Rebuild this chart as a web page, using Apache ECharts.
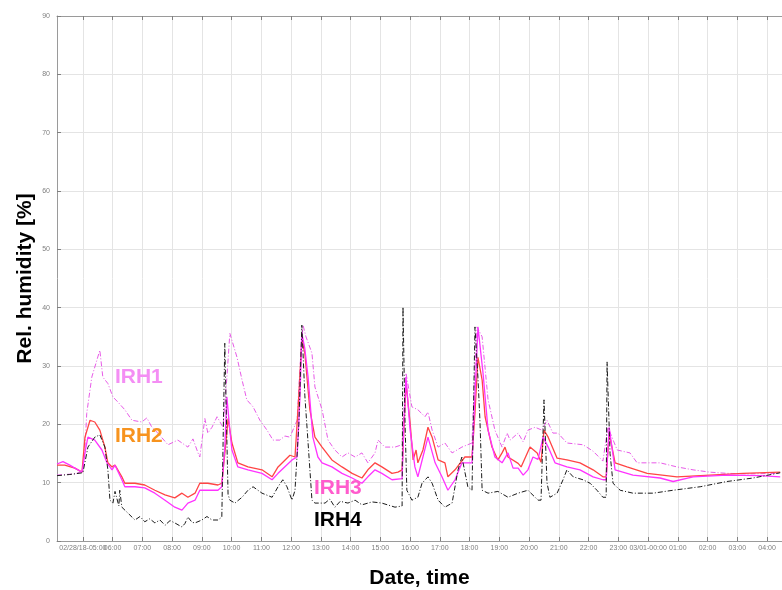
<!DOCTYPE html>
<html>
<head>
<meta charset="utf-8">
<script src="https://cdn.jsdelivr.net/npm/echarts@6/dist/echarts.min.js"></script>
<style>
  html, body { margin: 0; padding: 0; background: #fff; }
  #chart { width: 782px; height: 590px; }
</style>
</head>
<body>
<div id="chart"></div>
<script>
// Time = hours since 02/28 00:00 ; value = relative humidity [%]
const irh1 = [[4.13,11.3],[4.39,11.4],[4.73,11.5],[5.00,12.0],[5.07,16.0],[5.13,21.9],[5.30,28.1],[5.47,31.0],[5.57,32.7],[5.61,32.9],[5.67,28.1],[5.84,27.0],[6.01,24.7],[6.18,23.8],[6.41,22.5],[6.65,20.7],[6.98,20.4],[7.15,21.1],[7.32,19.5],[7.52,18.5],[7.86,16.5],[8.19,17.3],[8.53,16.1],[8.70,17.5],[8.87,15.1],[8.93,14.4],[9.10,21.0],[9.20,18.5],[9.34,19.5],[9.51,21.3],[9.71,19.5],[9.84,28.0],[9.94,35.6],[10.18,31.5],[10.35,27.6],[10.51,24.2],[10.72,23.0],[10.95,20.7],[11.19,19.0],[11.39,17.3],[11.62,17.3],[11.79,18.0],[11.96,17.8],[12.20,20.7],[12.30,30.0],[12.40,37.0],[12.50,35.0],[12.70,32.2],[12.80,26.4],[13.04,22.5],[13.24,17.3],[13.47,15.6],[13.71,14.4],[13.91,15.1],[14.15,14.4],[14.38,15.1],[14.58,13.4],[14.82,15.1],[14.92,17.3],[15.15,16.1],[15.49,16.1],[15.73,16.5],[15.79,22.0],[15.86,28.8],[16.06,23.0],[16.26,22.5],[16.50,21.3],[16.60,22.1],[16.74,19.0],[16.94,16.1],[17.17,16.8],[17.41,15.1],[17.74,16.1],[18.08,16.8],[18.18,30.0],[18.25,36.7],[18.42,35.0],[18.62,24.2],[18.85,19.0],[19.09,16.1],[19.26,18.5],[19.36,17.3],[19.63,18.5],[19.80,17.0],[19.96,19.0],[20.20,19.5],[20.43,19.0],[20.60,20.7],[20.80,18.5],[20.97,18.5],[21.27,16.8],[21.81,16.5],[22.15,15.4],[22.48,13.7],[22.65,19.5],[22.96,15.6],[23.39,15.1],[23.63,13.4],[24.40,13.4],[24.97,12.7],[25.51,12.2],[26.08,11.8],[26.65,11.6],[27.33,11.5],[28.44,11.6]];

const irh2 = [[4.13,13.0],[4.39,13.0],[4.73,12.5],[4.97,11.8],[5.07,17.8],[5.24,20.7],[5.40,20.4],[5.57,19.0],[5.74,16.1],[5.84,13.4],[5.98,12.7],[6.08,13.0],[6.31,11.0],[6.41,9.9],[6.75,9.9],[7.08,9.6],[7.42,8.7],[7.76,7.9],[8.09,7.4],[8.33,8.2],[8.53,7.5],[8.77,8.2],[8.93,9.9],[9.20,9.9],[9.54,9.6],[9.67,9.9],[9.81,17.0],[9.88,21.0],[10.01,16.8],[10.21,13.4],[10.55,12.7],[11.02,12.2],[11.36,11.0],[11.56,12.7],[11.96,14.7],[12.13,14.4],[12.26,25.0],[12.36,34.5],[12.46,32.2],[12.63,22.5],[12.80,17.8],[13.04,16.1],[13.37,13.9],[13.71,12.7],[14.05,11.6],[14.38,10.8],[14.58,12.2],[14.82,13.4],[15.05,12.7],[15.39,11.6],[15.59,11.8],[15.73,12.2],[15.86,27.1],[16.00,20.2],[16.10,13.9],[16.20,15.6],[16.26,13.4],[16.43,15.6],[16.60,19.5],[16.74,17.8],[16.94,13.9],[17.17,13.4],[17.27,11.0],[17.51,12.2],[17.84,14.4],[18.08,14.4],[18.18,22.0],[18.28,31.5],[18.42,27.6],[18.52,21.3],[18.75,16.1],[18.95,13.9],[19.09,15.1],[19.19,16.1],[19.29,14.4],[19.63,13.3],[19.73,12.7],[20.03,16.1],[20.27,15.1],[20.40,13.5],[20.50,19.0],[20.64,17.8],[20.94,14.2],[21.27,13.9],[21.71,13.4],[22.15,12.2],[22.48,11.0],[22.59,11.0],[22.69,18.5],[22.89,13.4],[23.29,12.7],[23.97,11.6],[24.97,11.0],[26.08,11.3],[27.19,11.6],[28.44,11.8]];

const irh3 = [[4.13,13.2],[4.33,13.6],[4.56,13.0],[4.73,12.5],[4.97,11.8],[5.10,16.0],[5.17,17.8],[5.40,17.3],[5.64,15.6],[5.81,13.4],[5.98,12.2],[6.08,13.0],[6.31,10.5],[6.41,9.3],[6.75,9.3],[7.08,9.1],[7.42,8.2],[7.76,7.0],[8.09,5.8],[8.33,5.3],[8.53,6.5],[8.77,7.0],[8.93,8.7],[9.20,8.7],[9.54,8.7],[9.67,9.3],[9.77,16.0],[9.84,24.7],[9.94,19.0],[10.01,15.6],[10.21,12.7],[10.55,12.2],[11.02,11.6],[11.36,10.5],[11.56,11.6],[12.03,13.9],[12.20,14.4],[12.30,25.0],[12.36,35.6],[12.46,33.0],[12.57,28.1],[12.73,17.8],[12.90,14.4],[13.04,13.4],[13.37,12.7],[13.71,11.6],[14.05,10.8],[14.38,9.9],[14.58,11.0],[14.82,12.2],[15.05,11.6],[15.39,10.5],[15.73,10.7],[15.79,20.0],[15.86,28.1],[16.00,19.0],[16.16,12.7],[16.26,11.0],[16.43,14.4],[16.60,17.8],[16.84,13.4],[17.07,11.0],[17.27,8.7],[17.51,10.5],[17.74,13.4],[18.08,13.4],[18.18,25.0],[18.28,36.7],[18.45,28.8],[18.62,19.0],[18.85,14.4],[19.09,13.4],[19.29,15.1],[19.46,12.5],[19.63,12.5],[19.80,11.3],[19.96,12.2],[20.13,14.4],[20.30,14.0],[20.47,17.8],[20.64,16.1],[20.87,13.4],[21.27,12.7],[21.71,12.2],[22.15,11.0],[22.48,10.5],[22.59,10.5],[22.69,19.5],[22.89,12.2],[23.49,11.3],[24.40,10.8],[24.84,10.2],[25.51,11.0],[26.65,11.3],[27.76,11.2],[28.44,11.0]];

const irh4 = [[4.13,11.2],[4.56,11.4],[5.00,11.7],[5.17,16.1],[5.40,17.8],[5.57,18.2],[5.74,16.1],[5.84,12.2],[5.91,7.0],[6.01,6.5],[6.08,8.5],[6.14,8.7],[6.21,6.0],[6.24,8.7],[6.31,5.8],[6.51,4.8],[6.75,3.6],[6.92,4.2],[7.08,3.3],[7.25,3.8],[7.42,3.1],[7.59,3.6],[7.76,2.7],[7.93,3.5],[8.09,3.1],[8.33,2.4],[8.43,3.0],[8.53,4.1],[8.67,3.2],[8.77,3.1],[9.00,3.6],[9.17,4.2],[9.34,3.6],[9.54,3.6],[9.67,4.1],[9.77,33.9],[9.88,8.0],[9.94,7.0],[10.11,6.5],[10.35,7.5],[10.55,8.7],[10.72,9.3],[11.02,8.2],[11.36,7.5],[11.56,9.3],[11.72,10.5],[11.86,9.3],[12.03,7.0],[12.13,8.7],[12.26,20.0],[12.36,37.0],[12.46,25.0],[12.57,16.8],[12.70,7.0],[12.80,6.5],[13.14,6.5],[13.30,7.2],[13.47,5.8],[13.65,6.8],[13.91,6.5],[14.15,7.0],[14.38,6.2],[14.72,6.7],[15.05,6.5],[15.49,5.8],[15.73,6.0],[15.76,40.1],[15.83,20.0],[15.89,8.7],[16.06,7.0],[16.26,7.5],[16.40,9.9],[16.60,11.0],[16.74,9.9],[16.94,7.0],[17.17,5.8],[17.41,6.5],[17.61,12.2],[17.74,14.4],[17.94,9.3],[18.08,8.7],[18.18,36.7],[18.28,28.0],[18.35,20.2],[18.42,8.7],[18.62,8.2],[18.95,8.5],[19.29,7.5],[19.63,8.2],[19.96,8.7],[20.30,7.0],[20.40,7.0],[20.50,24.2],[20.60,10.0],[20.70,7.5],[20.94,8.2],[21.14,10.5],[21.27,12.2],[21.48,11.0],[21.81,10.5],[22.05,9.9],[22.28,8.7],[22.48,7.5],[22.59,7.5],[22.62,30.7],[22.72,15.0],[22.82,9.9],[23.06,8.7],[23.49,8.2],[24.17,8.2],[24.84,8.7],[25.75,9.3],[26.65,10.2],[27.53,10.8],[28.44,11.7]];

const hourTicks = [5,6,7,8,9,10,11,12,13,14,15,16,17,18,19,20,21,22,23,24,25,26,27,28];
const hourLabels = ['02/28/18-05:00','06:00','07:00','08:00','09:00','10:00','11:00','12:00','13:00','14:00','15:00','16:00','17:00','18:00','19:00','20:00','21:00','22:00','23:00','03/01-00:00','01:00','02:00','03:00','04:00'];
const yTicks = [0,10,20,30,40,50,60,70,80,90];

const seriesNames = ['IRH1','IRH2','IRH3','IRH4'];
const seriesColors = ['#e85ae8','#ff4545','#ff33ff','#1a1a1a'];
const labelColors = ['#f48ef4','#f7931e','#ff5ccd','#000000'];
const labelAnchors = [[6.88,28.1],[6.88,18.0],[13.57,9.1],[13.57,3.6]];

const FONT = 'Liberation Sans, Arial, Helvetica, sans-serif';
const chart = echarts.init(document.getElementById('chart'), null, {renderer: 'canvas'});

function hourLabel(v) {
  const k = hourTicks.indexOf(Math.round(v));
  return k >= 0 ? hourLabels[k] : '';
}

function mk(i, data, dashed, width) {
  return {
    name: seriesNames[i],
    type: 'line',
    data: data,
    showSymbol: false,
    symbol: 'none',
    smooth: false,
    lineStyle: { color: seriesColors[i], width: width, type: dashed ? [5,2,1,2] : 'solid' },
    z: 2 + i,
    markPoint: {
      symbol: 'circle', symbolSize: 1,
      itemStyle: { color: 'rgba(0,0,0,0)' },
      label: { show: true, position: 'inside', formatter: seriesNames[i],
               color: labelColors[i], fontSize: 21, fontWeight: 'bold', fontFamily: FONT },
      data: [{ coord: labelAnchors[i] }]
    }
  };
}

const tickStyle = { show: true, inside: true, length: 4, lineStyle: { color: '#808080' } };
const lineStyleAxis = { show: true, onZero: false, lineStyle: { color: '#9a9a9a', width: 1 } };
const labelBase = { fontSize: 7, color: '#808080', fontFamily: FONT, margin: 4, hideOverlap: false, formatter: hourLabel };

chart.setOption({
  animation: false,
  backgroundColor: '#ffffff',
  grid: { left: 57, top: 16, right: 0, bottom: 49, containLabel: false, outerBoundsMode: 'none' },
  xAxis: [{
    type: 'value', position: 'bottom', min: 4.13, max: 28.5,
    axisLine: lineStyleAxis,
    axisTick: Object.assign({ customValues: hourTicks }, tickStyle),
    axisLabel: Object.assign({ customValues: hourTicks.slice(1) }, labelBase),
    splitLine: { show: true, lineStyle: { color: '#e4e4e4', width: 1 } },
    name: 'Date, time', nameLocation: 'middle', nameGap: 27, nameMoveOverlap: false,
    nameTextStyle: { fontSize: 21, fontWeight: 'bold', color: '#000', fontFamily: FONT }
  }, {
    type: 'value', position: 'top', min: 4.13, max: 28.5,
    axisLine: lineStyleAxis,
    axisTick: Object.assign({ customValues: hourTicks }, tickStyle),
    axisLabel: { show: false },
    splitLine: { show: false }
  }, {
    type: 'value', position: 'bottom', offset: 0, min: 4.13, max: 28.5,
    axisLine: { show: false },
    axisTick: { show: false, customValues: hourTicks.slice(0, 1) },
    axisLabel: Object.assign({ customValues: hourTicks.slice(0, 1) }, labelBase),
    splitLine: { show: false }
  }],
  yAxis: {
    type: 'value', min: 0, max: 90, interval: 10,
    axisLine: lineStyleAxis,
    axisTick: tickStyle,
    axisLabel: { fontSize: 7, color: '#808080', fontFamily: FONT, margin: 7 },
    splitLine: { show: true, lineStyle: { color: '#e4e4e4', width: 1 } },
    name: 'Rel. humidity [%]', nameLocation: 'middle', nameGap: 21, nameMoveOverlap: false,
    nameTextStyle: { fontSize: 21, fontWeight: 'bold', color: '#000', fontFamily: FONT }
  },
  series: [
    mk(0, irh1, true, 1),
    mk(1, irh2, false, 1.3),
    mk(2, irh3, false, 1.3),
    mk(3, irh4, true, 1)
  ]
});
</script>
</body>
</html>
